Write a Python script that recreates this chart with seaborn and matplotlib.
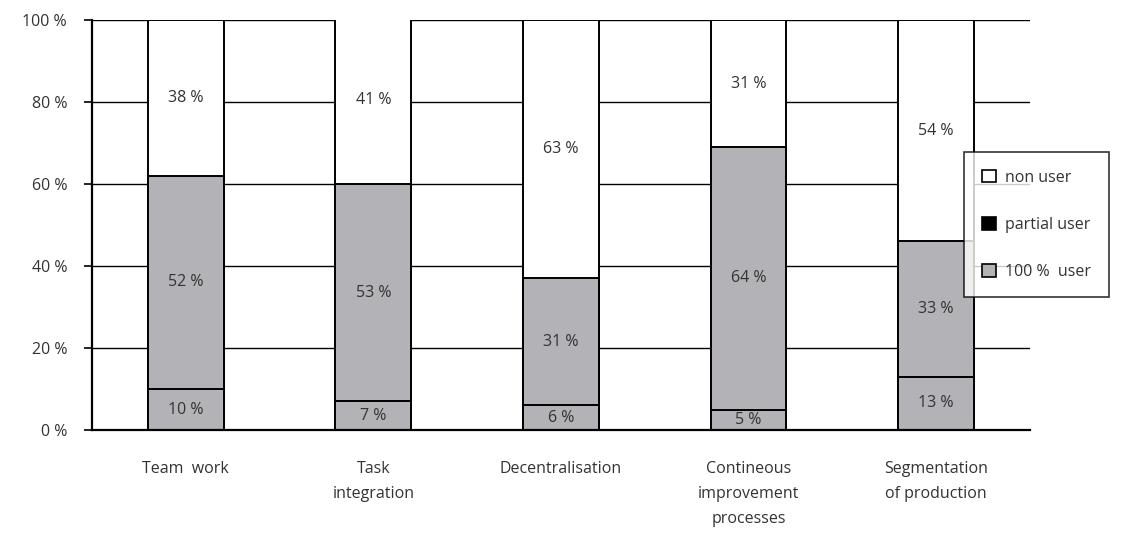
import matplotlib
matplotlib.use("Agg")
import matplotlib.pyplot as plt
import seaborn as sns
import pandas as pd
from matplotlib.patches import Patch

categories = ["Team  work", "Task\nintegration", "Decentralisation",
              "Contineous\nimprovement\nprocesses", "Segmentation\nof production"]
full_user = [10, 7, 6, 5, 13]
partial_user = [52, 53, 31, 64, 33]
non_user = [38, 41, 63, 31, 54]
yticks = [0, 20, 40, 60, 80, 100]
ytick_labels = ["0 %", "20 %", "40 %", "60 %", "80 %", "100 %"]

sns.set_theme(style="white")
plt.rcParams["font.family"] = ["Open Sans", "DejaVu Sans"]

GRAY = "#b3b3b7"
TEXT = "#333333"
FS = 11.5

df = pd.DataFrame({
    "category": categories,
    "full": full_user,
    "partial": partial_user,
    "non": non_user,
})
df["lvl1"] = df["full"]
df["lvl2"] = df["full"] + df["partial"]
df["lvl3"] = df["lvl2"] + df["non"]

fig = plt.figure(figsize=(11.28, 5.39), dpi=100)
ax = fig.add_axes([0.0816, 0.2022, 0.913 - 0.0816, 0.963 - 0.2022])

for y in yticks[1:]:
    ax.axhline(y, color="black", lw=1.0, zorder=0)

bw = 0.405
common = dict(x="category", order=categories, width=bw, edgecolor="black",
              linewidth=1.4, ax=ax, zorder=2)
sns.barplot(data=df, y="lvl3", color="white", saturation=1, **common)
sns.barplot(data=df, y="lvl2", color=GRAY, saturation=1, **common)
sns.barplot(data=df, y="lvl1", color=GRAY, saturation=1, **common)

for i in range(len(categories)):
    segs = [(0, full_user[i]), (full_user[i], partial_user[i]),
            (full_user[i] + partial_user[i], non_user[i])]
    for b, h in segs:
        ax.text(i, b + h / 2, f"{h} %", ha="center", va="center",
                fontsize=FS, color=TEXT, zorder=5)

ax.set_xlim(-0.5, 4.5)
ax.set_ylim(0, 100)
ax.set_yticks(yticks)
ax.set_yticklabels(ytick_labels, fontsize=FS, color=TEXT)
ax.set_xticks(range(len(categories)))
ax.set_xticklabels(categories, fontsize=FS, color=TEXT, linespacing=1.75,
                   va="top")
ax.tick_params(axis="x", length=0, pad=22)
ax.tick_params(axis="y", length=6, width=1.2, color="black", direction="out",
               left=True, pad=12)
ax.set_xlabel("")
ax.set_ylabel("")

for side in ["top", "right"]:
    ax.spines[side].set_visible(False)
for side in ["left", "bottom"]:
    ax.spines[side].set_color("black")
    ax.spines[side].set_linewidth(1.6)

handles = [
    Patch(facecolor="white", edgecolor="black", linewidth=1.2, label="non user"),
    Patch(facecolor="black", edgecolor="black", linewidth=1.2, label="partial user"),
    Patch(facecolor=GRAY, edgecolor="black", linewidth=1.2, label="100 %  user"),
]
leg = fig.legend(handles=handles, loc="upper left",
                 bbox_to_anchor=(0.855, 0.718), bbox_transform=fig.transFigure,
                 frameon=True, fancybox=False, fontsize=FS,
                 labelspacing=1.95, handlelength=0.85, handleheight=0.85,
                 handletextpad=0.6, borderpad=1.1, borderaxespad=0)
leg.get_frame().set_edgecolor("black")
leg.get_frame().set_linewidth(1.2)
for t in leg.get_texts():
    t.set_color(TEXT)

fig.savefig("out.png", dpi=100)
